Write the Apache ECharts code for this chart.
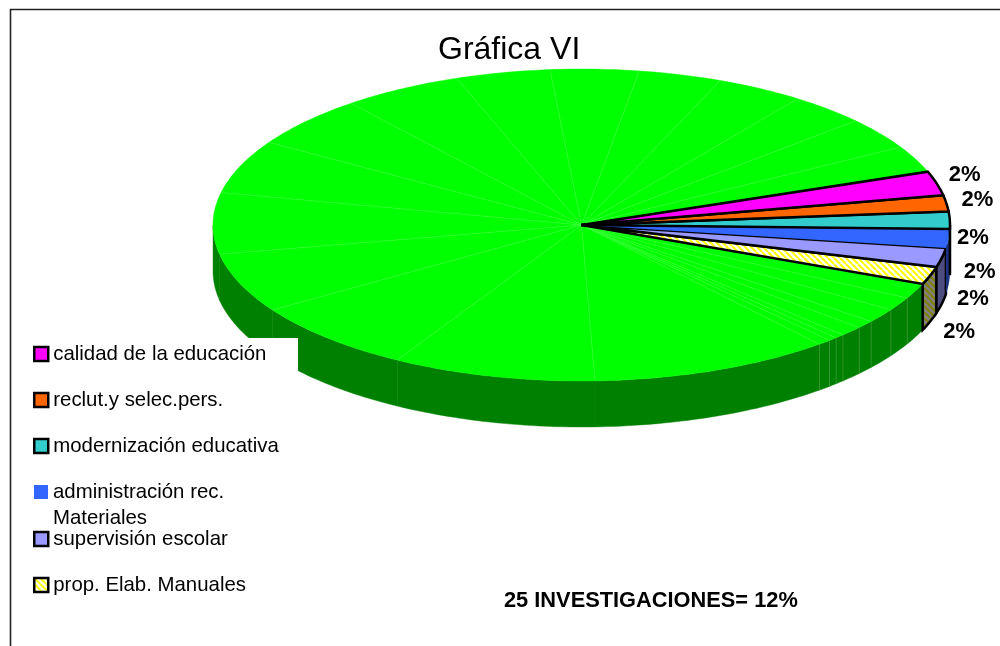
<!DOCTYPE html>
<html>
<head>
<meta charset="utf-8">
<style>html,body{margin:0;padding:0;background:#fff}#c{width:1000px;height:646px}</style>
<script src="https://cdn.jsdelivr.net/npm/echarts@6/dist/echarts.min.js"></script>
</head>
<body>
<div id="c"></div>
<script>
// ---- data (slice shares in degrees of the pie, clockwise) ----
const titleText = 'Gráfica VI';
const noteText = '25 INVESTIGACIONES= 12%';
const categories = ['calidad de la educación','reclut.y selec.pers.','modernización educativa','administración rec.\nMateriales','supervisión escolar','prop. Elab. Manuales'];
const categoryShares = [9, 6, 6.5, 7, 7.1, 6.6];
const categoryLabels = [2, 2, 2, 2, 2, 2];
const otherShares = [5.7,5,5.3,2.9,3.7,1.5,1.4,2.1,38.1,32.1,27,22.2,22.8,20,19.3,18.9,14.9,13.9,13.1,13.8,12.2,11.9,10];
const firstAngle = 20;

// ---- style ----
const FONT = '"Liberation Sans", Arial, sans-serif';
function hatch(a, b) {
  const c = document.createElement('canvas'); c.width = c.height = 6;
  const g = c.getContext('2d');
  g.fillStyle = a; g.fillRect(0,0,6,6);
  g.strokeStyle = b; g.lineWidth = 2;
  [-6,0,6,12].forEach(o => { g.beginPath(); g.moveTo(o,0); g.lineTo(o+6,6); g.stroke(); });
  return c;
}
const topFills = ['#ff00ff','#ff6600','#33cccc','#3366ff','#9999ff',{image:hatch('#ffffff','#ffff00'),repeat:'repeat'}];
const wallFills = ['#800080','#803300','#1a6666','#1a3380','#4d4d80',{image:hatch('#808080','#808000'),repeat:'repeat'}];
const borders = [2.5,2.5,2.5,0,2.5,2.5];
const swatchBorders = [2.5,2.5,2.5,0,2.5,2.5];
const legendLefts = [33,33,33,34,33,33];
const legendTops = [344,390,436,453,529,575];
const labelOffsets = [[28,-8],[31,-3],[23,18],[31,33],[31,41],[29,56]];
const DEPTH = 46/156;           // wall height in y-axis units
const rad = d => d*Math.PI/180;
const top_ = (api,t) => api.coord([Math.cos(rad(t)), Math.sin(rad(t))]);
const bot_ = (api,t) => api.coord([Math.cos(rad(t)), Math.sin(rad(t))-DEPTH]);
function arc(fn, api, from, to) {
  const pts = [], n = Math.max(1, Math.ceil(Math.abs(to-from)));
  for (let i=0;i<=n;i++) pts.push(fn(api, from+(to-from)*i/n));
  return pts;
}
function wallPoints(api, s, e) {
  const hi = Math.min(s,0), lo = Math.max(e,-180);
  if (hi <= lo) return null;
  return arc(top_,api,hi,lo).concat(arc(bot_,api,lo,hi));
}
function renderOther(params, api) {
  const s = api.value(0), e = s-api.value(1), ch = [];
  const w = wallPoints(api,s,e);
  if (w) ch.push({type:'polygon',shape:{points:w},style:{fill:'#008000',stroke:'#008000',lineWidth:0.4}});
  ch.push({type:'polygon',shape:{points:[api.coord([0,0])].concat(arc(top_,api,s,e))},style:{fill:'#00ff00',stroke:'#00ff00',lineWidth:0.4}});
  return {type:'group',children:ch};
}
function renderOtherLines(params, api) {
  const s = api.value(0), ch = [];
  const p = top_(api,s), c = api.coord([0,0]);
  ch.push({type:'line',shape:{x1:c[0],y1:c[1],x2:p[0],y2:p[1]},style:{stroke:'#44ff44',lineWidth:0.5}});
  if (s<0 && s>-180) {
    const b = bot_(api,s);
    ch.push({type:'line',shape:{x1:p[0],y1:p[1],x2:b[0],y2:b[1]},style:{stroke:s>-60?'#4da64d':'#0c880c',lineWidth:0.5}});
  }
  return {type:'group',children:ch};
}
function renderCategory(i) {
  return function(params, api) {
    const s = api.value(0), e = s-api.value(1), ch = [];
    const bw = borders[i];
    const w = wallPoints(api,s,e);
    if (w) ch.push({type:'polygon',shape:{points:w},style:{fill:wallFills[i],stroke:bw?'#000':null,lineWidth:bw}});
    ch.push({type:'polygon',shape:{points:[api.coord([0,0])].concat(arc(top_,api,s,e))},style:{fill:topFills[i],stroke:bw?'#000':null,lineWidth:bw}});
    const m = top_(api,(s+e)/2);
    ch.push({type:'text',x:m[0]+labelOffsets[i][0],y:m[1]+labelOffsets[i][1],z2:10,
      style:{text:categoryLabels[i]+'%',font:'bold 22px '+FONT,fill:'#000',align:'center',verticalAlign:'middle'}});
    return {type:'group',children:ch};
  };
}
// ---- cumulative start angles ----
const catData = []; let a = firstAngle;
categoryShares.forEach(v => { catData.push([a,v]); a -= v; });
const otherData = otherShares.map(v => { const r=[a,v]; a -= v; return r; });

const series = [
  {type:'custom',name:'otras',coordinateSystem:'cartesian2d',silent:true,z:2,clip:false,renderItem:renderOther,data:otherData,encode:{x:0,y:1}},
  {type:'custom',name:'otras-lineas',coordinateSystem:'cartesian2d',silent:true,z:3,clip:false,renderItem:renderOtherLines,data:otherData,encode:{x:0,y:1}}
];
categories.forEach((name,i) => series.push({type:'custom',name,coordinateSystem:'cartesian2d',silent:true,z:4+(categories.length-i),clip:false,
  itemStyle:{color:topFills[i]},renderItem:renderCategory(i),data:[catData[i]],encode:{x:0,y:1}}));

const legends = categories.map((name,i) => {
  const two = name.indexOf('\n')>=0;
  return {
    data:[{name,icon:'rect'}], orient:'vertical', left:legendLefts[i], top:legendTops[i],
    padding:0, itemWidth:14, itemHeight:14, itemGap:0, selectedMode:false, z:20,
    formatter: two ? (n => ' \n'+n) : (n => n),
    itemStyle:{color:topFills[i],borderColor:'#000',borderWidth:swatchBorders[i]},
    textStyle: two ? {fontFamily:FONT,fontSize:20.4,color:'#000',lineHeight:26} : {fontFamily:FONT,fontSize:20.4,color:'#000'}
  };
});

const chart = echarts.init(document.getElementById('c'),null,{renderer:'canvas'});
chart.setOption({
  animation:false,
  backgroundColor:'#fff',
  title:[
    {text:titleText,left:438,top:34,padding:0,textStyle:{fontFamily:FONT,fontSize:32,fontWeight:'normal',color:'#000'}},
    {text:noteText,left:504,top:590,padding:0,textStyle:{fontFamily:FONT,fontSize:21.8,fontWeight:'bold',color:'#000'}}
  ],
  grid:{left:213,top:69,width:737,height:312,containLabel:false},
  xAxis:{type:'value',min:-1,max:1,show:false},
  yAxis:{type:'value',min:-1,max:1,show:false},
  legend:legends,
  series,
  graphic:[
    {type:'rect',z:15,silent:true,shape:{x:20,y:338,width:278,height:262},style:{fill:'#fff'}},
    {type:'line',z:15,silent:true,shape:{x1:10.5,y1:9,x2:10.5,y2:646},style:{stroke:'#222',lineWidth:1.6}},
    {type:'line',z:15,silent:true,shape:{x1:10,y1:9.5,x2:1000,y2:9.5},style:{stroke:'#222',lineWidth:1.6}}
  ]
});
</script>
</body>
</html>
